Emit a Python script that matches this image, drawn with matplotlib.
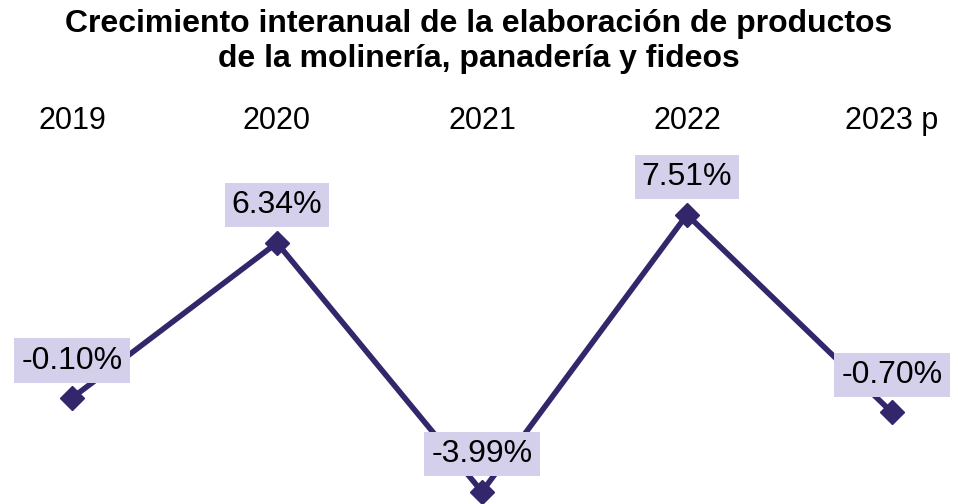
import matplotlib
matplotlib.use('Agg')
import matplotlib.pyplot as plt

plt.rcParams['font.family'] = ['Liberation Sans', 'DejaVu Sans']

years = ['2019', '2020', '2021', '2022', '2023 p']
growth = [-0.10, 6.34, -3.99, 7.51, -0.70]
labels = ['-0.10%', '6.34%', '-3.99%', '7.51%', '-0.70%']

line_color = '#33266b'
box_color = '#d4cfeb'

fig = plt.figure(figsize=(9.58, 5.04), dpi=100)
ax = fig.add_axes([0, 0, 1, 0.7222])

x = list(range(len(years)))
ax.plot(x, growth, color=line_color, linewidth=4, marker='D', markersize=12,
        markerfacecolor=line_color, markeredgecolor=line_color, solid_joinstyle='miter')

for xi, v, lab in zip(x, growth, labels):
    ax.annotate(lab, (xi, v), xytext=(0, 27), textcoords='offset points',
                ha='center', va='center', fontsize=23, color='black',
                bbox=dict(boxstyle='square,pad=0.22', facecolor=box_color, edgecolor='none'))

ax.set_xlim(-0.351, 4.322)
ax.set_ylim(-4.50, 10.61)
ax.xaxis.tick_top()
ax.set_xticks(x)
ax.set_xticklabels(years, fontsize=22)
ax.tick_params(axis='x', length=0, pad=3)
ax.set_yticks([])
for s in ax.spines.values():
    s.set_visible(False)

fig.suptitle('Crecimiento interanual de la elaboración de productos\nde la molinería, panadería y fideos',
             fontsize=23, fontweight='bold', y=0.982, linespacing=1.22)

fig.savefig('out.png', dpi=100)
